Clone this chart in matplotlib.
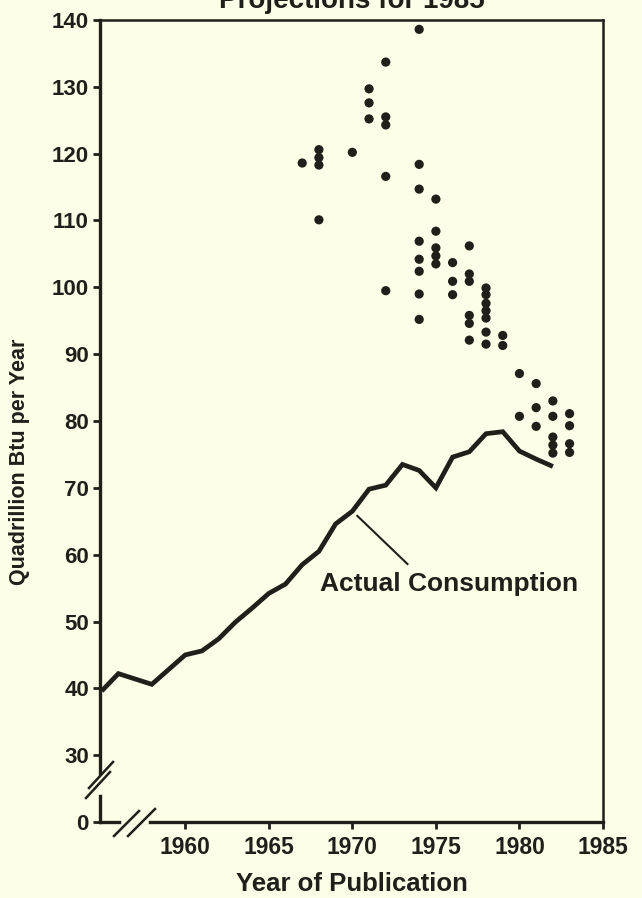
import matplotlib
matplotlib.use("Agg")
import matplotlib.pyplot as plt
from matplotlib.lines import Line2D

# ---- data ----
years_actual = [1955, 1956, 1957, 1958, 1959, 1960, 1961, 1962, 1963, 1964,
                1965, 1966, 1967, 1968, 1969, 1970, 1971, 1972, 1973, 1974,
                1975, 1976, 1977, 1978, 1979, 1980, 1981, 1982]
consumption = [39.6, 42.2, 41.4, 40.6, 42.8, 45.0, 45.6, 47.4, 49.9, 52.0,
               54.2, 55.6, 58.5, 60.5, 64.6, 66.5, 69.8, 70.4, 73.5, 72.6,
               70.0, 74.6, 75.4, 78.1, 78.4, 75.5, 74.3, 73.2]

proj_years = ([1967] +
              [1968] * 4 +
              [1970] +
              [1971] * 3 +
              [1972] * 5 +
              [1974] * 8 +
              [1975] * 5 +
              [1976] * 3 +
              [1977] * 6 +
              [1978] * 7 +
              [1979] * 2 +
              [1980] * 2 +
              [1981] * 3 +
              [1982] * 5 +
              [1983] * 4)
proj_values = ([118.6] +
               [120.6, 119.4, 118.3, 110.1] +
               [120.2] +
               [129.7, 127.6, 125.2] +
               [133.7, 125.5, 124.3, 116.6, 99.5] +
               [138.6, 118.4, 114.7, 106.9, 104.2, 102.4, 99.0, 95.2] +
               [113.2, 108.4, 105.9, 104.7, 103.5] +
               [103.7, 100.9, 98.9] +
               [106.2, 102.0, 100.9, 95.8, 94.6, 92.1] +
               [99.9, 98.9, 97.6, 96.5, 95.4, 93.3, 91.5] +
               [92.8, 91.3] +
               [87.1, 80.7] +
               [85.6, 82.0, 79.2] +
               [83.0, 80.7, 77.6, 76.4, 75.2] +
               [81.1, 79.3, 76.6, 75.3])

ytick_vals = [20, 30, 40, 50, 60, 70, 80, 90, 100, 110, 120, 130, 140]
ytick_labels = ["0", "30", "40", "50", "60", "70", "80", "90", "100",
                "110", "120", "130", "140"]
xtick_vals = [1960, 1965, 1970, 1975, 1980, 1985]
xtick_labels = ["1960", "1965", "1970", "1975", "1980", "1985"]

# ---- style ----
BG = "#fdfde8"
INK = "#221f1a"
FONT = ["Liberation Sans", "DejaVu Sans"]
plt.rcParams["font.family"] = FONT
plt.rcParams["font.weight"] = "bold"

W, H = 642, 898
fig = plt.figure(figsize=(W / 100, H / 100), dpi=100, facecolor=BG)
ax = fig.add_axes([100 / W, 1 - 822 / H, 503 / W, 802 / H], facecolor=BG)

ax.plot(years_actual, consumption, color=INK, lw=3.4, solid_joinstyle="miter",
        solid_capstyle="butt", zorder=3)
ax.scatter(proj_years, proj_values, s=44, color=INK, edgecolors="none", zorder=4)

ax.set_xlim(1954.9, 1985)
ax.set_ylim(20, 140)
ax.set_yticks(ytick_vals)
ax.set_yticklabels(ytick_labels)
ax.set_xticks(xtick_vals)
ax.set_xticklabels(xtick_labels)
for lab in ax.get_yticklabels():
    lab.set_fontsize(16)
    lab.set_fontweight("bold")
for lab in ax.get_xticklabels():
    lab.set_fontsize(16.5)
    lab.set_fontweight("bold")
ax.tick_params(axis="both", direction="out", length=5, width=2, colors=INK,
               pad=3)
ax.tick_params(axis="x", pad=5)

for side in ["left", "bottom"]:
    ax.spines[side].set_linewidth(2.4)
for side in ["top", "right"]:
    ax.spines[side].set_linewidth(1.8)
for s in ax.spines.values():
    s.set_color(INK)

# annotation
ax.plot([1970.3, 1973.3], [65.8, 58.6], color=INK, lw=1.5, zorder=3)
ax.text(1975.8, 55.6, "Actual Consumption", ha="center", va="center",
        fontsize=19, fontweight="bold", color=INK)

# axis break marks (decoration, figure pixel coords)
def px_line(xs, ys, **kw):
    fig.add_artist(Line2D([x / W for x in xs], [1 - y / H for y in ys], **kw))

# y-axis break
px_line([100, 100], [778, 792], color=BG, lw=4, zorder=10)
px_line([86, 110], [798, 772], color=INK, lw=1.8, zorder=11)
px_line([89, 113], [788, 762], color=INK, lw=1.8, zorder=11)
# x-axis break
px_line([124, 146], [822, 822], color=BG, lw=4, zorder=10)
px_line([114, 139], [836, 811], color=INK, lw=1.8, zorder=11)
px_line([128, 155], [836, 809], color=INK, lw=1.8, zorder=11)

# titles / labels
fig.text(352 / W, 1 - 8 / H, "Projections for 1985", ha="center",
         va="baseline", fontsize=20, fontweight="bold", color=INK)
fig.text(352 / W, 1 - 884 / H, "Year of Publication", ha="center",
         va="center", fontsize=18.5, fontweight="bold", color=INK)
fig.text(20 / W, 1 - 462 / H, "Quadrillion Btu per Year", ha="center",
         va="center", rotation=90, fontsize=15.5, fontweight="bold",
         color=INK)

fig.savefig("out.png", dpi=100, facecolor=BG)
